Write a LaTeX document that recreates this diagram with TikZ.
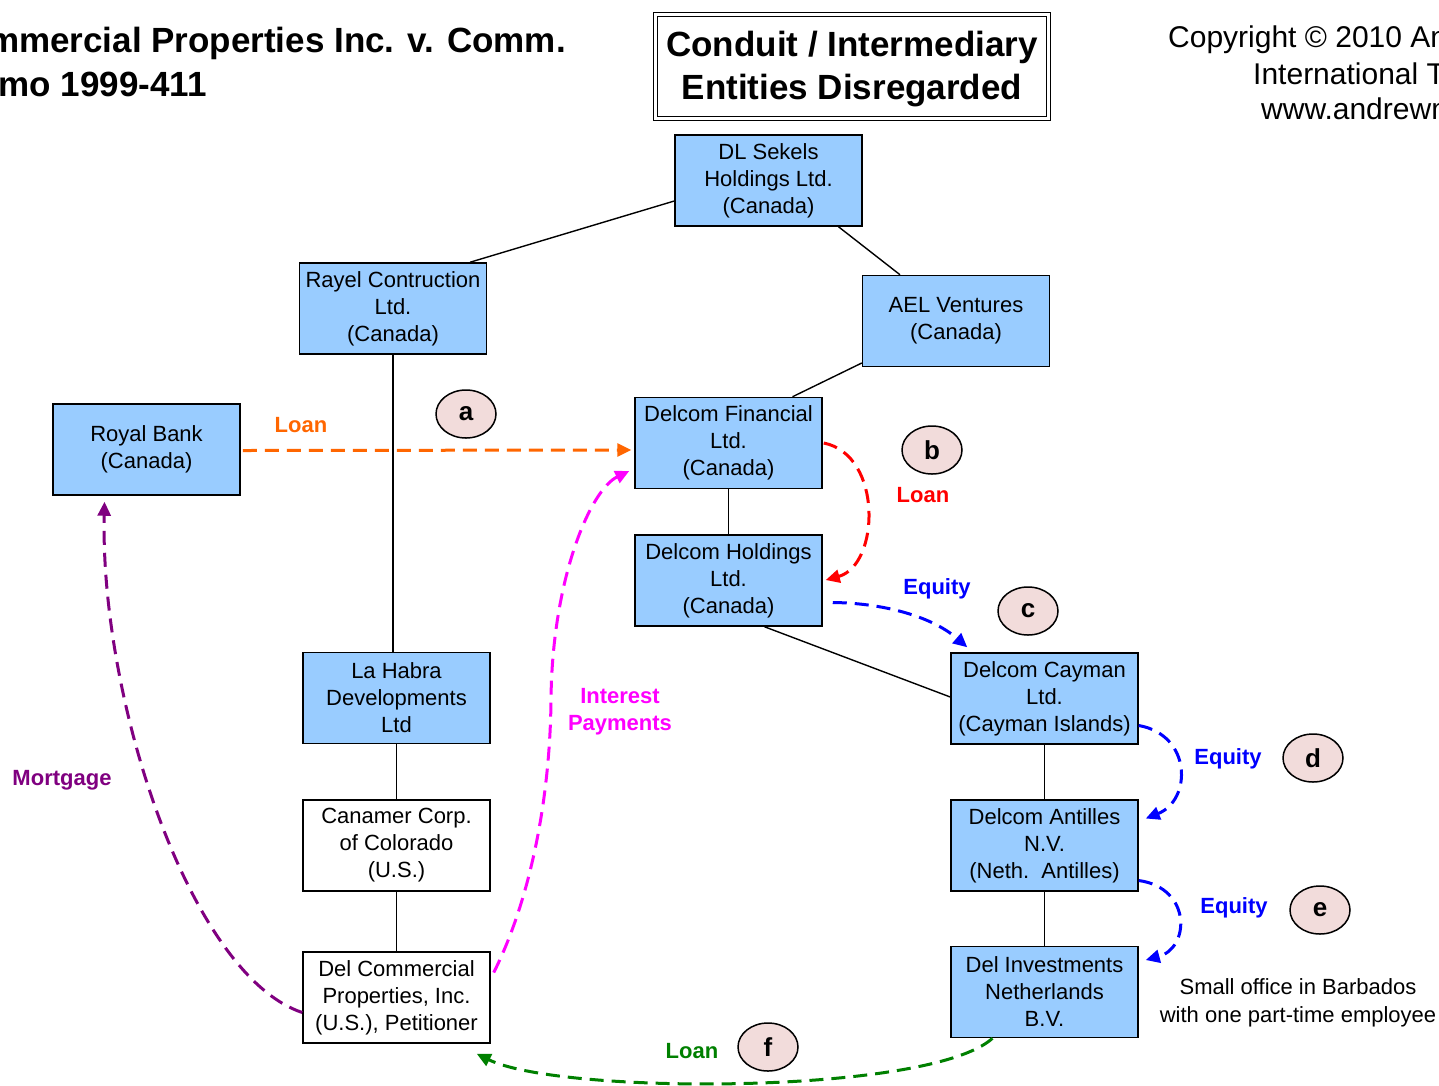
\documentclass[tikz,border=0pt]{standalone}
\usepackage{fontspec}
\setmainfont{Liberation Sans}
\usetikzlibrary{arrows.meta,calc,shapes.geometric}
\definecolor{boxblue}{HTML}{99CCFF}
\definecolor{circfill}{HTML}{F2DCDB}
\definecolor{orangeA}{HTML}{FF6600}
\definecolor{purpleA}{HTML}{800080}
\definecolor{greenA}{HTML}{008000}
\definecolor{magentaA}{HTML}{FF00FF}
\begin{document}
\begin{tikzpicture}[x=1pt,y=-1pt,
  entity/.style={draw=black,line width=1.5pt,minimum width=187pt,minimum height=91pt,inner sep=0pt,align=center,font=\fontsize{22}{27}\selectfont},
  bluebox/.style={entity,fill=boxblue},
  whitebox/.style={entity,fill=white},
  link/.style={line width=1.4pt,black},
  flow/.style={line width=3pt,dash pattern=on 14pt off 8pt,-{Triangle[length=14pt,width=13pt]}},
  lbl/.style={font=\bfseries\fontsize{22}{27}\selectfont,align=center,inner sep=0pt},
  tag/.style={ellipse,draw=black,line width=1.5pt,fill=circfill,minimum width=60pt,minimum height=48pt,inner sep=0pt,font=\bfseries\fontsize{26}{30}\selectfont},
  note/.style={font=\fontsize{22}{28}\selectfont,align=center,inner sep=0pt}
]
\path[use as bounding box] (0,0) rectangle (1439,1085);
\clip (0,0) rectangle (1439,1085);
\fill[white] (0,0) rectangle (1439,1085);

% headings
\node[anchor=base east,inner sep=0pt,font=\bfseries\fontsize{35}{43}\selectfont] (case1) at (566,52) {Del Commercial Properties Inc. v. Comm.};
\node[anchor=base east,inner sep=0pt,font=\bfseries\fontsize{35}{43}\selectfont] (case2) at (207,96) {T.C. Memo 1999-411};
\node[anchor=base west,inner sep=0pt,font=\fontsize{30}{36}\selectfont] (copy1) at (1168,47) {Copyright \textcopyright\ 2010 Andrew Mitchel LLC};
\node[anchor=base west,inner sep=0pt,font=\fontsize{30}{36}\selectfont] (copy2) at (1253,84) {International Tax Services};
\node[anchor=base west,inner sep=0pt,font=\fontsize{30}{36}\selectfont] (copy3) at (1261,119) {www.andrewmitchel.com};
\node[draw=black,double,double distance=3pt,line width=1.2pt,minimum width=393pt,minimum height=104pt,inner sep=0pt] (title) at (852,66.5) {};
\node[align=center,inner sep=0pt,font=\bfseries\fontsize{35}{43}\selectfont] (titletext) at (852,69) {Conduit / Intermediary\\Entities Disregarded};

% entities
\node[bluebox] (dl) at (768.5,180.5) {DL Sekels\\Holdings Ltd.\\(Canada)};
\node[bluebox] (rayel) at (393,308.5) {Rayel Contruction\\Ltd.\\(Canada)};
\node[bluebox] (ael) at (956,321) {AEL Ventures\\(Canada)};
\node[bluebox] (royal) at (146.5,449.5) {Royal Bank\\(Canada)};
\node[bluebox] (dfin) at (728.5,443) {Delcom Financial\\Ltd.\\(Canada)};
\node[bluebox] (dhold) at (728.5,580.5) {Delcom Holdings\\Ltd.\\(Canada)};
\node[bluebox] (lahabra) at (396.5,698) {La Habra\\Developments\\Ltd};
\node[whitebox] (canamer) at (396.5,845.5) {Canamer Corp.\\of Colorado\\(U.S.)};
\node[whitebox] (delcom) at (396.5,997.5) {Del Commercial\\Properties, Inc.\\(U.S.), Petitioner};
\node[bluebox] (cayman) at (1044.5,698.5) {Delcom Cayman\\Ltd.\\(Cayman Islands)};
\node[bluebox] (antilles) at (1044.5,845.5) {Delcom Antilles\\N.V.\\(Neth.\ \ Antilles)};
\node[bluebox] (delinv) at (1044.5,992) {Del Investments\\Netherlands\\B.V.};

% ownership links
\draw[link] ($(dl.west)+(0,20.5)$) -- ($(rayel.north)+(77,0)$);
\draw[link] ($(dl.south)+(70,0)$) -- ($(ael.north)+(-56,0)$);
\draw[link] ($(ael.west)+(0,42)$) -- ($(dfin.north)+(64,0)$);
\draw[link] (rayel.south) -- (rayel.south |- lahabra.north);
\draw[link] (dfin.south) -- (dhold.north);
\draw[link] ($(dhold.south)+(36,0)$) -- ($(cayman.west)+(0,-1.5)$);
\draw[link] (cayman.south) -- (antilles.north);
\draw[link] (antilles.south) -- (delinv.north);
\draw[link] (lahabra.south) -- (canamer.north);
\draw[link] (canamer.south) -- (delcom.north);

% flows
\draw[flow,orangeA] ($(royal.east)+(2,1)$) -- ($(dfin.west)+(-3,7)$);
\draw[flow,red] ($(dfin.east)+(1,0)$) .. controls (883,455) and (880,565) .. ($(dhold.east)+(3,-0.5)$);
\draw[flow,blue] ($(dhold.east)+(10,22)$) .. controls (880,603) and (930,615) .. ($(cayman.north west)+(17,-5)$);
\draw[flow,blue] ($(cayman.east)+(0,27)$) .. controls (1192,735) and (1192,800) .. ($(antilles.east)+(7,-27)$);
\draw[flow,blue] ($(antilles.east)+(0,35)$) .. controls (1192,888) and (1190,948) .. ($(delinv.east)+(7,-32)$);
\draw[flow,greenA] ($(delinv.south)+(-52,0)$) .. controls (930,1095) and (560,1095) .. ($(delcom.south east)+(-14,10)$);
\draw[flow,magentaA] ($(delcom.east)+(3,-25)$) .. controls (530,900) and (550,800) .. (551,700) .. controls (552,580) and (590,490) .. ($(dfin.west)+(-5,28)$);
\draw[flow,purpleA] ($(delcom.west)+(0,15)$) .. controls (190,975) and (100,700) .. ($(royal.south)+(-42,6)$);

% labels
\node[lbl,orangeA] (l1) at (301,425) {Loan};
\node[lbl,red] (l2) at (923,495) {Loan};
\node[lbl,blue] (l3) at (937,589) {Equity};
\node[lbl,blue] (l4) at (1228,759) {Equity};
\node[lbl,blue] (l5) at (1234,908) {Equity};
\node[lbl,greenA] (l6) at (692,1051) {Loan};
\node[lbl,magentaA] (l7) at (620,712) {Interest\\Payments};
\node[lbl,purpleA] (l8) at (62,780) {Mortgage};

% tags
\node[tag] (ta) at (466,414) {a};
\node[tag] (tb) at (932,450) {b};
\node[tag] (tc) at (1028,611) {c};
\node[tag] (td) at (1313,758) {d};
\node[tag] (te) at (1320,910) {e};
\node[tag] (tf) at (768,1047) {f};

\node[note] (office) at (1298,1003) {Small office in Barbados\\with one part-time employee};
\end{tikzpicture}
\end{document}
